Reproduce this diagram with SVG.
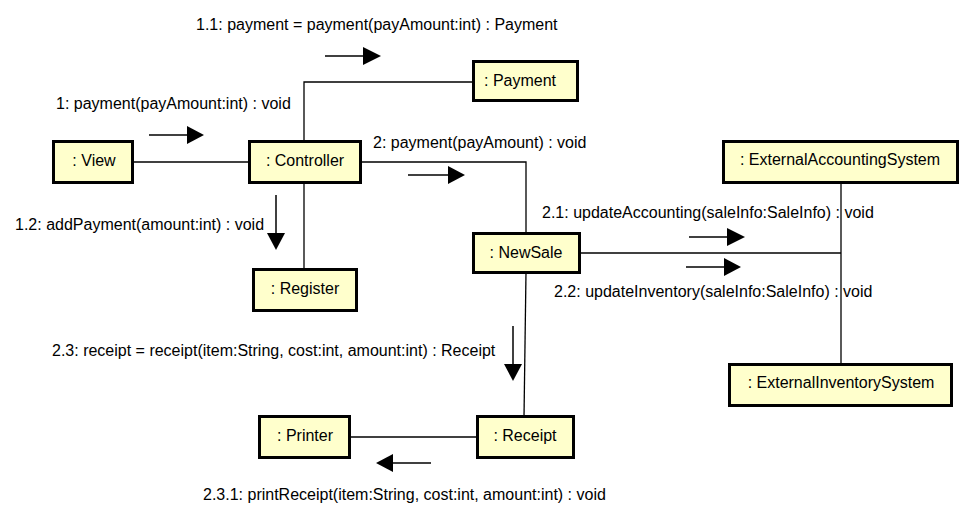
<svg xmlns="http://www.w3.org/2000/svg" width="973" height="515" viewBox="0 0 973 515">
<style>
.node rect{fill:#FFFFCC;stroke:#000;stroke-width:3}
text{font-family:"Liberation Sans",Arial,sans-serif;font-size:16px;fill:#000}
.node text{text-anchor:middle}
.conn{fill:none;stroke:#000;stroke-width:1.3}
.msg line{stroke:#000;stroke-width:1.5}
.msg polygon{fill:#000}
</style>
<rect width="973" height="515" fill="#fff"/>
<g id="connectors">
<line class="conn" x1="134" y1="162" x2="249" y2="162"/>
<polyline class="conn" points="304,142 304,82 473,82"/>
<line class="conn" x1="304" y1="183" x2="304" y2="269"/>
<polyline class="conn" points="360,162 526,162 526,233"/>
<line class="conn" x1="580" y1="253" x2="841" y2="253"/>
<line class="conn" x1="841" y1="183" x2="841" y2="365"/>
<line class="conn" x1="526" y1="272" x2="524" y2="417"/>
<line class="conn" x1="349" y1="437" x2="477" y2="437"/>
</g>
<g id="messages" class="msg">
<g id="m1_1"><line x1="325" y1="56" x2="365" y2="56"/><polygon points="363,47 381,56 363,65"/><text x="196" y="30">1.1: payment = payment(payAmount:int) : Payment</text></g>
<g id="m1"><line x1="149" y1="135" x2="189" y2="135"/><polygon points="187,126 204,135 187,144"/><text x="56" y="109">1: payment(payAmount:int) : void</text></g>
<g id="m1_2"><line x1="276" y1="195" x2="276" y2="235"/><polygon points="267,233 285,233 276,250"/><text x="15" y="230">1.2: addPayment(amount:int) : void</text></g>
<g id="m2"><line x1="408" y1="175" x2="450" y2="175"/><polygon points="448,166 465,175 448,184"/><text x="373" y="148">2: payment(payAmount) : void</text></g>
<g id="m2_1"><line x1="689" y1="237" x2="729" y2="237"/><polygon points="727,228 745,237 727,246"/><text x="542" y="218">2.1: updateAccounting(saleInfo:SaleInfo) : void</text></g>
<g id="m2_2"><line x1="686" y1="267" x2="726" y2="267"/><polygon points="724,258 741,267 724,276"/><text x="554" y="297">2.2: updateInventory(saleInfo:SaleInfo) : void</text></g>
<g id="m2_3"><line x1="513" y1="326" x2="513" y2="366"/><polygon points="504,364 522,364 513,381"/><text x="52" y="356">2.3: receipt = receipt(item:String, cost:int, amount:int) : Receipt</text></g>
<g id="m2_3_1"><line x1="431" y1="463" x2="391" y2="463"/><polygon points="393,454 376,463 393,472"/><text x="203" y="500">2.3.1: printReceipt(item:String, cost:int, amount:int) : void</text></g>
</g>
<g id="view" class="node"><rect x="53.5" y="141.5" width="79" height="41"/><text x="94" y="166">: View</text></g>
<g id="controller" class="node"><rect x="249.5" y="141.5" width="111" height="41"/><text x="305" y="166">: Controller</text></g>
<g id="payment" class="node"><rect x="473.5" y="61.5" width="104" height="39"/><text x="520" y="86">: Payment</text></g>
<g id="register" class="node"><rect x="253.5" y="269.5" width="103" height="41"/><text x="305" y="294">: Register</text></g>
<g id="newsale" class="node"><rect x="473.5" y="233.5" width="106" height="39"/><text x="526" y="258">: NewSale</text></g>
<g id="accounting" class="node"><rect x="723.5" y="141.5" width="234" height="41"/><text x="840" y="165">: ExternalAccountingSystem</text></g>
<g id="inventory" class="node"><rect x="729.5" y="364.5" width="222" height="41"/><text x="841" y="388">: ExternalInventorySystem</text></g>
<g id="receipt" class="node"><rect x="477.5" y="416.5" width="96" height="41"/><text x="525" y="441">: Receipt</text></g>
<g id="printer" class="node"><rect x="259.5" y="416.5" width="90" height="41"/><text x="305" y="441">: Printer</text></g>
</svg>
